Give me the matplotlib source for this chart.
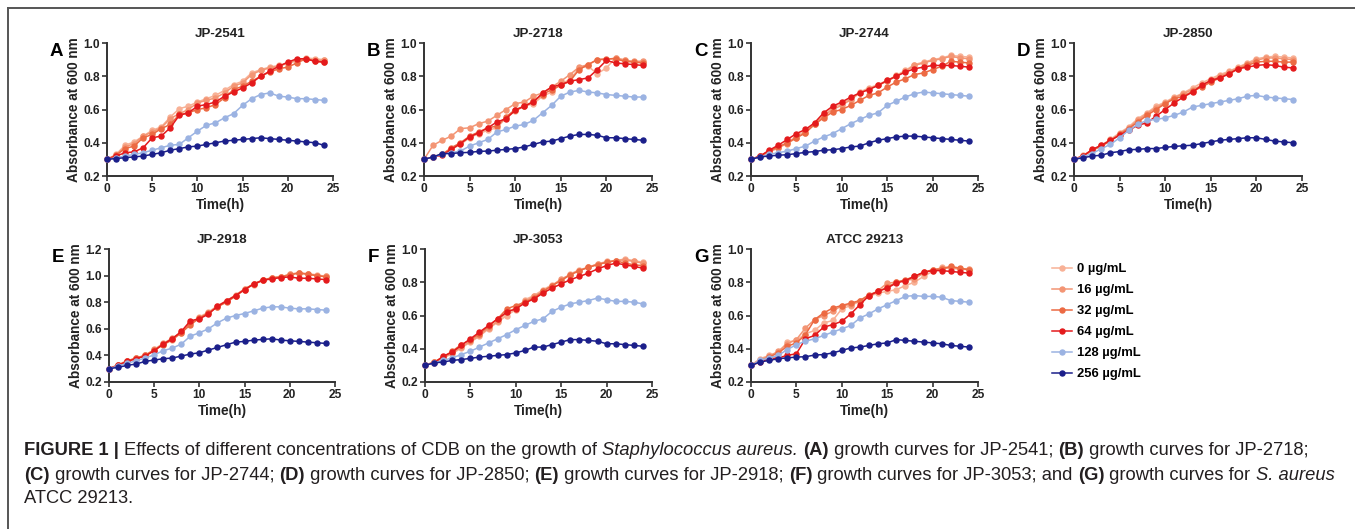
import matplotlib
matplotlib.use("Agg")
import matplotlib.pyplot as plt
from matplotlib.lines import Line2D

plt.rcParams['font.family'] = ['Liberation Sans', 'DejaVu Sans']

# time points (h)
hours = list(range(25))

concentrations = ['0 µg/mL', '16 µg/mL', '32 µg/mL', '64 µg/mL', '128 µg/mL', '256 µg/mL']
colors = ['#F8B196', '#F39574', '#EC6A43', '#E41A1C', '#9BB3E2', '#1B1F8A']

panel_letters = ['A', 'B', 'C', 'D', 'E', 'F', 'G']
panel_titles = ['JP-2541', 'JP-2718', 'JP-2744', 'JP-2850', 'JP-2918', 'JP-3053', 'ATCC 29213']

# absorbance at 600 nm, one list per concentration (0, 16, 32, 64, 128, 256 µg/mL)
jp2541 = [
    [0.30, 0.33, 0.385, 0.405, 0.44, 0.475, 0.495, 0.555, 0.605, 0.62, 0.645, 0.665, 0.685, 0.715, 0.75, 0.77, 0.82, 0.84, 0.855, 0.865, 0.875, 0.895, 0.91, 0.905, 0.90],
    [0.30, 0.325, 0.375, 0.395, 0.44, 0.465, 0.49, 0.545, 0.575, 0.60, 0.64, 0.655, 0.67, 0.70, 0.74, 0.76, 0.81, 0.835, 0.85, 0.86, 0.88, 0.895, 0.905, 0.895, 0.895],
    [0.30, 0.325, 0.365, 0.38, 0.43, 0.45, 0.485, 0.51, 0.57, 0.58, 0.60, 0.61, 0.63, 0.67, 0.72, 0.74, 0.77, 0.80, 0.825, 0.845, 0.855, 0.88, 0.905, 0.89, 0.885],
    [0.30, 0.32, 0.34, 0.345, 0.37, 0.43, 0.44, 0.49, 0.565, 0.58, 0.62, 0.63, 0.645, 0.68, 0.705, 0.73, 0.76, 0.80, 0.83, 0.86, 0.885, 0.905, 0.905, 0.89, 0.885],
    [0.30, 0.31, 0.32, 0.33, 0.34, 0.355, 0.37, 0.385, 0.39, 0.43, 0.47, 0.505, 0.52, 0.55, 0.575, 0.625, 0.665, 0.69, 0.70, 0.68, 0.675, 0.665, 0.665, 0.66, 0.655],
    [0.30, 0.305, 0.31, 0.315, 0.32, 0.33, 0.34, 0.355, 0.365, 0.375, 0.38, 0.39, 0.40, 0.41, 0.415, 0.42, 0.425, 0.43, 0.425, 0.42, 0.415, 0.41, 0.405, 0.40, 0.385],
]
jp2718 = [
    [0.30, 0.315, 0.33, 0.36, 0.39, 0.43, 0.455, 0.475, 0.49, 0.55, 0.59, 0.62, 0.635, 0.68, 0.705, 0.755, 0.78, 0.85, 0.86, 0.815, 0.85, 0.91, 0.90, 0.885, 0.885],
    [0.30, 0.385, 0.415, 0.44, 0.485, 0.49, 0.515, 0.53, 0.565, 0.60, 0.635, 0.645, 0.68, 0.70, 0.735, 0.77, 0.81, 0.855, 0.87, 0.90, 0.90, 0.91, 0.895, 0.89, 0.89],
    [0.30, 0.315, 0.33, 0.37, 0.40, 0.44, 0.465, 0.49, 0.50, 0.555, 0.60, 0.62, 0.65, 0.69, 0.72, 0.745, 0.77, 0.84, 0.87, 0.90, 0.905, 0.905, 0.89, 0.885, 0.88],
    [0.30, 0.315, 0.325, 0.36, 0.395, 0.435, 0.46, 0.49, 0.525, 0.545, 0.595, 0.62, 0.645, 0.70, 0.735, 0.75, 0.77, 0.78, 0.79, 0.84, 0.895, 0.88, 0.875, 0.87, 0.865],
    [0.30, 0.315, 0.33, 0.34, 0.35, 0.38, 0.40, 0.42, 0.465, 0.48, 0.50, 0.51, 0.535, 0.58, 0.625, 0.68, 0.705, 0.715, 0.705, 0.70, 0.69, 0.685, 0.68, 0.675, 0.675],
    [0.30, 0.315, 0.335, 0.335, 0.34, 0.342, 0.348, 0.35, 0.355, 0.36, 0.365, 0.375, 0.39, 0.405, 0.41, 0.425, 0.44, 0.45, 0.45, 0.445, 0.43, 0.43, 0.425, 0.42, 0.415],
]
jp2744 = [
    [0.30, 0.32, 0.345, 0.37, 0.40, 0.44, 0.47, 0.51, 0.565, 0.61, 0.635, 0.665, 0.705, 0.73, 0.75, 0.775, 0.805, 0.835, 0.87, 0.885, 0.90, 0.91, 0.925, 0.92, 0.915],
    [0.30, 0.32, 0.345, 0.37, 0.395, 0.43, 0.46, 0.515, 0.56, 0.60, 0.625, 0.66, 0.70, 0.725, 0.745, 0.77, 0.80, 0.83, 0.865, 0.88, 0.895, 0.905, 0.92, 0.91, 0.905],
    [0.30, 0.32, 0.35, 0.375, 0.40, 0.43, 0.46, 0.51, 0.55, 0.585, 0.60, 0.625, 0.655, 0.685, 0.70, 0.735, 0.765, 0.785, 0.81, 0.82, 0.84, 0.86, 0.89, 0.885, 0.88],
    [0.30, 0.32, 0.355, 0.385, 0.42, 0.455, 0.48, 0.52, 0.58, 0.62, 0.645, 0.675, 0.70, 0.72, 0.745, 0.775, 0.80, 0.825, 0.845, 0.855, 0.865, 0.865, 0.865, 0.86, 0.855],
    [0.30, 0.315, 0.33, 0.34, 0.35, 0.365, 0.38, 0.41, 0.435, 0.455, 0.485, 0.515, 0.54, 0.565, 0.58, 0.625, 0.65, 0.675, 0.695, 0.705, 0.70, 0.695, 0.69, 0.685, 0.68],
    [0.30, 0.315, 0.32, 0.325, 0.328, 0.335, 0.342, 0.347, 0.355, 0.358, 0.365, 0.375, 0.38, 0.40, 0.415, 0.425, 0.435, 0.44, 0.44, 0.435, 0.43, 0.425, 0.42, 0.415, 0.41],
]
jp2850 = [
    [0.30, 0.325, 0.355, 0.385, 0.42, 0.46, 0.495, 0.545, 0.58, 0.62, 0.645, 0.675, 0.70, 0.73, 0.76, 0.785, 0.81, 0.83, 0.855, 0.88, 0.905, 0.915, 0.92, 0.915, 0.91],
    [0.30, 0.32, 0.355, 0.38, 0.415, 0.455, 0.49, 0.535, 0.575, 0.61, 0.64, 0.67, 0.695, 0.72, 0.745, 0.775, 0.80, 0.825, 0.85, 0.875, 0.895, 0.91, 0.91, 0.905, 0.90],
    [0.30, 0.32, 0.355, 0.38, 0.41, 0.45, 0.485, 0.525, 0.565, 0.60, 0.635, 0.665, 0.68, 0.71, 0.735, 0.765, 0.79, 0.815, 0.845, 0.865, 0.885, 0.89, 0.89, 0.885, 0.885],
    [0.30, 0.32, 0.36, 0.385, 0.415, 0.445, 0.475, 0.505, 0.52, 0.56, 0.60, 0.64, 0.675, 0.705, 0.745, 0.775, 0.79, 0.815, 0.845, 0.855, 0.865, 0.87, 0.865, 0.855, 0.85],
    [0.30, 0.315, 0.335, 0.365, 0.39, 0.43, 0.475, 0.51, 0.535, 0.54, 0.55, 0.565, 0.585, 0.615, 0.625, 0.635, 0.645, 0.655, 0.665, 0.68, 0.685, 0.675, 0.67, 0.665, 0.66],
    [0.30, 0.31, 0.32, 0.325, 0.34, 0.347, 0.358, 0.36, 0.365, 0.365, 0.372, 0.378, 0.382, 0.385, 0.395, 0.405, 0.415, 0.42, 0.425, 0.43, 0.43, 0.42, 0.41, 0.405, 0.40],
]
jp2918 = [
    [0.30, 0.325, 0.355, 0.38, 0.40, 0.44, 0.48, 0.515, 0.57, 0.64, 0.69, 0.725, 0.775, 0.81, 0.855, 0.90, 0.93, 0.965, 0.98, 0.99, 1.01, 1.02, 1.015, 1.005, 0.995],
    [0.30, 0.33, 0.36, 0.38, 0.40, 0.445, 0.49, 0.53, 0.575, 0.645, 0.68, 0.72, 0.765, 0.81, 0.85, 0.90, 0.935, 0.965, 0.98, 0.99, 1.01, 1.02, 1.01, 1.00, 0.995],
    [0.30, 0.325, 0.355, 0.38, 0.40, 0.44, 0.48, 0.52, 0.57, 0.63, 0.68, 0.72, 0.765, 0.80, 0.845, 0.895, 0.94, 0.965, 0.985, 0.99, 1.005, 1.02, 1.01, 1.00, 0.99],
    [0.30, 0.325, 0.355, 0.375, 0.395, 0.435, 0.485, 0.525, 0.58, 0.66, 0.675, 0.71, 0.77, 0.81, 0.85, 0.895, 0.935, 0.965, 0.975, 0.985, 0.99, 0.98, 0.98, 0.975, 0.97],
    [0.30, 0.32, 0.34, 0.36, 0.38, 0.405, 0.435, 0.455, 0.485, 0.545, 0.57, 0.60, 0.645, 0.68, 0.70, 0.715, 0.735, 0.755, 0.765, 0.765, 0.755, 0.75, 0.75, 0.745, 0.74],
    [0.30, 0.31, 0.325, 0.335, 0.355, 0.365, 0.375, 0.38, 0.395, 0.41, 0.42, 0.44, 0.46, 0.48, 0.50, 0.505, 0.515, 0.52, 0.525, 0.515, 0.51, 0.505, 0.50, 0.495, 0.49],
]
jp3053 = [
    [0.30, 0.32, 0.345, 0.37, 0.405, 0.44, 0.475, 0.52, 0.56, 0.60, 0.635, 0.695, 0.72, 0.755, 0.785, 0.81, 0.85, 0.875, 0.89, 0.91, 0.925, 0.93, 0.94, 0.93, 0.92],
    [0.30, 0.32, 0.345, 0.375, 0.41, 0.445, 0.48, 0.525, 0.565, 0.62, 0.645, 0.685, 0.715, 0.745, 0.78, 0.82, 0.845, 0.87, 0.89, 0.91, 0.92, 0.93, 0.935, 0.925, 0.915],
    [0.30, 0.32, 0.35, 0.385, 0.425, 0.455, 0.49, 0.535, 0.58, 0.64, 0.66, 0.68, 0.705, 0.745, 0.78, 0.81, 0.845, 0.87, 0.89, 0.905, 0.92, 0.93, 0.915, 0.905, 0.90],
    [0.30, 0.315, 0.355, 0.38, 0.42, 0.46, 0.50, 0.54, 0.58, 0.62, 0.64, 0.675, 0.70, 0.735, 0.765, 0.79, 0.815, 0.835, 0.855, 0.88, 0.90, 0.915, 0.905, 0.895, 0.885],
    [0.30, 0.315, 0.33, 0.345, 0.365, 0.385, 0.41, 0.435, 0.46, 0.485, 0.515, 0.54, 0.565, 0.58, 0.625, 0.65, 0.67, 0.68, 0.69, 0.705, 0.695, 0.685, 0.685, 0.68, 0.67],
    [0.30, 0.315, 0.32, 0.33, 0.335, 0.342, 0.35, 0.355, 0.36, 0.365, 0.375, 0.39, 0.41, 0.41, 0.425, 0.44, 0.455, 0.455, 0.45, 0.445, 0.43, 0.43, 0.425, 0.42, 0.415],
]
atcc29213 = [
    [0.30, 0.34, 0.36, 0.375, 0.44, 0.45, 0.49, 0.51, 0.555, 0.57, 0.64, 0.66, 0.685, 0.715, 0.735, 0.745, 0.755, 0.78, 0.80, 0.835, 0.865, 0.89, 0.89, 0.88, 0.875],
    [0.30, 0.335, 0.355, 0.385, 0.43, 0.455, 0.525, 0.575, 0.60, 0.625, 0.66, 0.665, 0.69, 0.715, 0.75, 0.795, 0.80, 0.81, 0.82, 0.855, 0.875, 0.885, 0.885, 0.88, 0.88],
    [0.30, 0.325, 0.35, 0.375, 0.415, 0.435, 0.485, 0.575, 0.615, 0.645, 0.66, 0.675, 0.69, 0.725, 0.745, 0.77, 0.80, 0.815, 0.835, 0.86, 0.875, 0.88, 0.895, 0.885, 0.875],
    [0.30, 0.32, 0.34, 0.345, 0.36, 0.37, 0.46, 0.48, 0.53, 0.545, 0.565, 0.61, 0.665, 0.72, 0.745, 0.765, 0.795, 0.81, 0.835, 0.86, 0.87, 0.87, 0.865, 0.86, 0.855],
    [0.30, 0.33, 0.345, 0.36, 0.395, 0.425, 0.445, 0.46, 0.48, 0.50, 0.52, 0.54, 0.585, 0.61, 0.64, 0.665, 0.69, 0.715, 0.72, 0.715, 0.715, 0.71, 0.69, 0.685, 0.68],
    [0.30, 0.32, 0.33, 0.34, 0.345, 0.35, 0.352, 0.362, 0.365, 0.375, 0.39, 0.405, 0.41, 0.42, 0.43, 0.435, 0.455, 0.45, 0.445, 0.44, 0.435, 0.43, 0.42, 0.415, 0.41],
]

panel_data = [jp2541, jp2718, jp2744, jp2850, jp2918, jp3053, atcc29213]
panel_ymax = [1.0, 1.0, 1.0, 1.0, 1.2, 1.0, 1.0]

# axes boxes in pixels: left, top, right, bottom
W, H = 1355, 529
boxes = [(107, 43, 333, 176), (424, 43, 652, 176), (751, 43, 978, 176), (1074, 43, 1302, 176),
         (109, 249, 335, 382), (425, 249, 652, 382), (751, 249, 978, 382)]

fig = plt.figure(figsize=(W / 100, H / 100), dpi=100)
fig.patch.set_facecolor('white')

axis_color = '#333333'
handles = []
for i, (l, t, r, b) in enumerate(boxes):
    ax = fig.add_axes([l / W, 1 - b / H, (r - l) / W, (b - t) / H])
    for k, series in enumerate(panel_data[i]):
        line, = ax.plot(hours, series, color=colors[k], marker='o', markersize=3.6,
                        linewidth=1.1, clip_on=False, zorder=3 + k * 0.1)
        if i == 0:
            handles.append(line)
    ax.set_xlim(0, 25)
    ax.set_ylim(0.2, panel_ymax[i])
    ax.set_xticks([0, 5, 10, 15, 20, 25])
    yt = [0.2, 0.4, 0.6, 0.8, 1.0] if panel_ymax[i] == 1.0 else [0.2, 0.4, 0.6, 0.8, 1.0, 1.2]
    ax.set_yticks(yt)
    ax.set_yticklabels(['%.1f' % v for v in yt])
    for s in ['top', 'right']:
        ax.spines[s].set_visible(False)
    for s in ['left', 'bottom']:
        ax.spines[s].set_color(axis_color)
        ax.spines[s].set_linewidth(1.4)
    ax.tick_params(colors=axis_color, width=1.2, length=3.5, labelsize=8.6, pad=1.5,
                   labelcolor='#222222')
    for lab in ax.get_xticklabels() + ax.get_yticklabels():
        lab.set_fontweight('bold')
    ax.set_xlabel('Time(h)', fontsize=9.8, fontweight='bold', color='#222222', labelpad=2)
    ax.set_ylabel('Absorbance at 600 nm', fontsize=9.8, fontweight='bold', color='#222222', labelpad=2)
    ax.set_title(panel_titles[i], fontsize=9.6, fontweight='bold', color='#222222', pad=4)
    ax.text(-57 / (r - l), 1.0, panel_letters[i], transform=ax.transAxes,
            fontsize=13.5, fontweight='bold', va='top', ha='left', color='black')

fig.legend(handles, concentrations, loc='upper left', bbox_to_anchor=(1052 / W, 1 - 263 / H),
           frameon=False, handlelength=1.5, handletextpad=0.45, labelspacing=0.68,
           prop={'weight': 'bold', 'size': 9.4}, borderaxespad=0, borderpad=0)

# frame lines of the figure page
fig.add_artist(Line2D([8 / W, 1], [1 - 8 / H, 1 - 8 / H], transform=fig.transFigure, color='#555555', linewidth=1.4))
fig.add_artist(Line2D([8 / W, 8 / W], [0, 1 - 8 / H], transform=fig.transFigure, color='#555555', linewidth=1.4))

# caption, built from pieces so bold / italic parts sit inline
caption_lines = [
    [('FIGURE 1 | ', 'bold', 'normal'), ('Effects of different concentrations of CDB on the growth of ', 'normal', 'normal'),
     ('Staphylococcus aureus.', 'normal', 'italic'), (' ', 'normal', 'normal'), ('(A)', 'bold', 'normal'),
     (' growth curves for JP-2541; ', 'normal', 'normal'), ('(B)', 'bold', 'normal'),
     (' growth curves for JP-2718;', 'normal', 'normal')],
    [('(C)', 'bold', 'normal'), (' growth curves for JP-2744; ', 'normal', 'normal'), ('(D)', 'bold', 'normal'),
     (' growth curves for JP-2850; ', 'normal', 'normal'), ('(E)', 'bold', 'normal'),
     (' growth curves for JP-2918; ', 'normal', 'normal'), ('(F)', 'bold', 'normal'),
     (' growth curves for JP-3053; and ', 'normal', 'normal'), ('(G)', 'bold', 'normal'),
     (' growth curves for ', 'normal', 'normal'), ('S. aureus', 'normal', 'italic')],
    [('ATCC 29213.', 'normal', 'normal')],
]
caption_y = [455, 480, 503]

renderer = fig.canvas.get_renderer()
for pieces, yb in zip(caption_lines, caption_y):
    x = 24
    for txt, weight, style in pieces:
        t = fig.text(x / W, 1 - yb / H, txt, fontsize=13.2, fontweight=weight, style=style,
                     color='#231F20', va='baseline', ha='left')
        x += t.get_window_extent(renderer).width

fig.savefig('out.png', dpi=100, facecolor='white')
